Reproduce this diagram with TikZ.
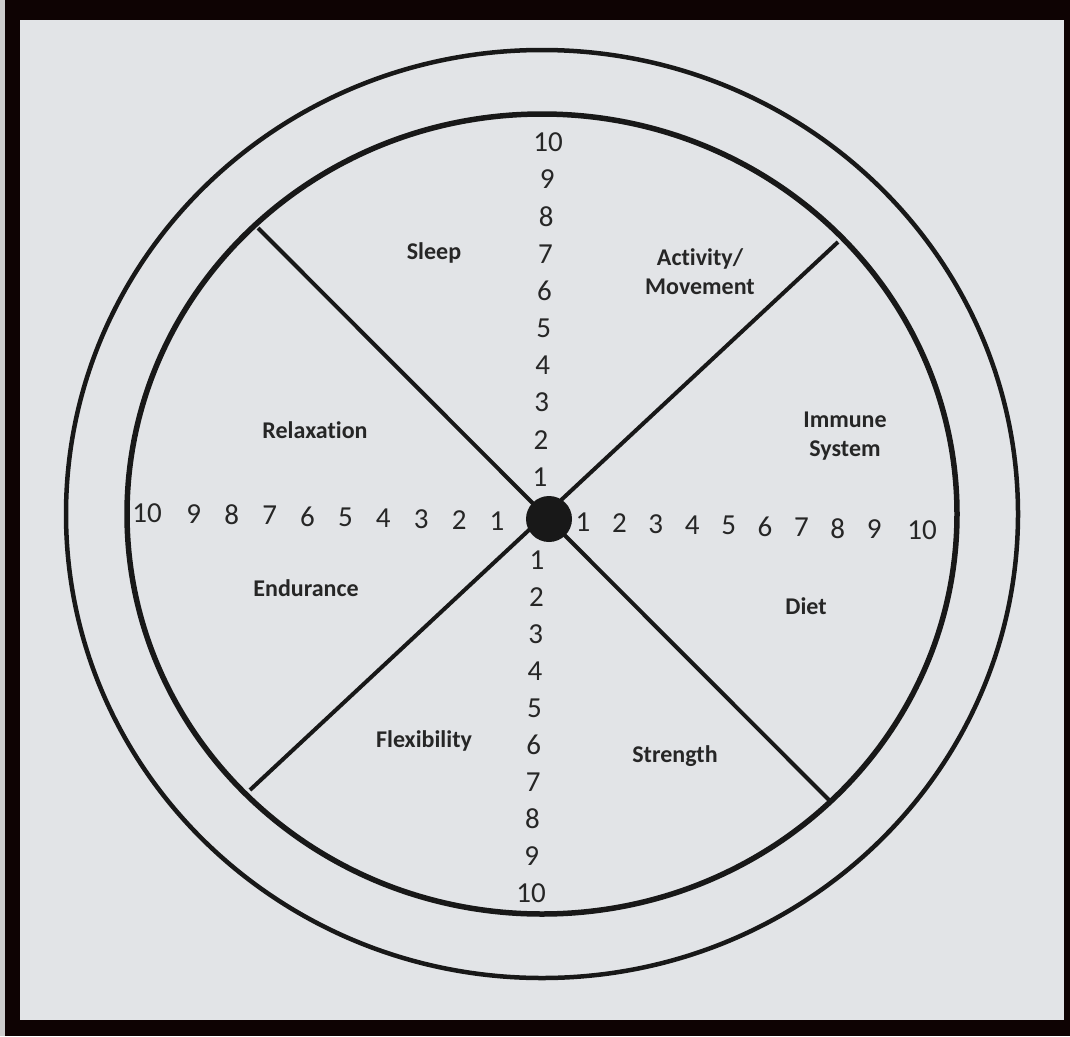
\documentclass[tikz,border=0pt]{standalone}
\usepackage{fontspec}
\setmainfont{Carlito}[Ligatures=NoCommon]
\definecolor{paper}{RGB}{226,228,231}
\definecolor{edgegray}{RGB}{205,205,205}
\definecolor{frame}{RGB}{14,3,3}
\definecolor{ink}{RGB}{24,24,24}
\definecolor{txt}{RGB}{38,38,38}
\begin{document}
\begin{tikzpicture}[x=1pt,y=-1pt,
  num/.style={font=\fontsize{29}{31}\selectfont, text=txt, inner sep=0pt},
  lab/.style={font=\bfseries\fontsize{24}{29}\selectfont, text=txt, align=center, inner sep=0pt},
  ring/.style={draw=ink},
  spoke/.style={draw=ink, line width=4pt}]
\useasboundingbox (0,0) rectangle (1070,1036);
\fill[edgegray] (0,0) rectangle (1070,1036);
\fill[frame] (5,0) rectangle (1070,1036);
\fill[paper] (20,20) rectangle (1064,1020);
\coordinate (c) at (542,514);
\draw[ring, line width=4.5pt] (c) ellipse [x radius=476pt, y radius=464pt];
\draw[ring, line width=5.5pt] (c) ellipse [x radius=415pt, y radius=400pt];
\coordinate (ul) at (258,228);
\coordinate (lr) at (832,803);
\coordinate (ur) at (838,242);
\coordinate (ll) at (250,790);
\draw[spoke] (ul) -- (lr);
\draw[spoke] (ur) -- (ll);
\node[circle, fill=ink, minimum size=46pt, inner sep=0pt] (hub) at (549,519) {};
% numbers
\foreach \i in {1,...,10} {
  \node[num] (t\i) at ({540+(\i-1)*0.9},{477-(\i-1)*37.2}) {\i};
  \node[num] (b\i) at ({537-(\i-1)*0.65},{560+(\i-1)*37}) {\i};
}
\foreach \i in {1,...,9} {
  \node[num] (l\i) at ({497-(\i-1)*37.9},{521-(\i-1)*0.9}) {\i};
  \node[num] (r\i) at ({583+(\i-1)*36.4},{522+(\i-1)*0.9}) {\i};
}
\node[num] (l10) at (147,513) {10};
\node[num] (r10) at (922,530) {10};
% labels
\node[lab] (sleep) at (434,253) {Sleep};
\node[lab] (activity) at (700,272) {Activity/\\Movement};
\node[lab] (immune) at (845,436) {Immune\\System};
\node[lab] (relax) at (315,430) {Relaxation};
\node[lab] (endur) at (306,588) {Endurance};
\node[lab] (diet) at (806,606) {Diet};
\node[lab] (flex) at (424,741) {Flexibility};
\node[lab] (strength) at (675,756) {Strength};
\end{tikzpicture}
\end{document}
